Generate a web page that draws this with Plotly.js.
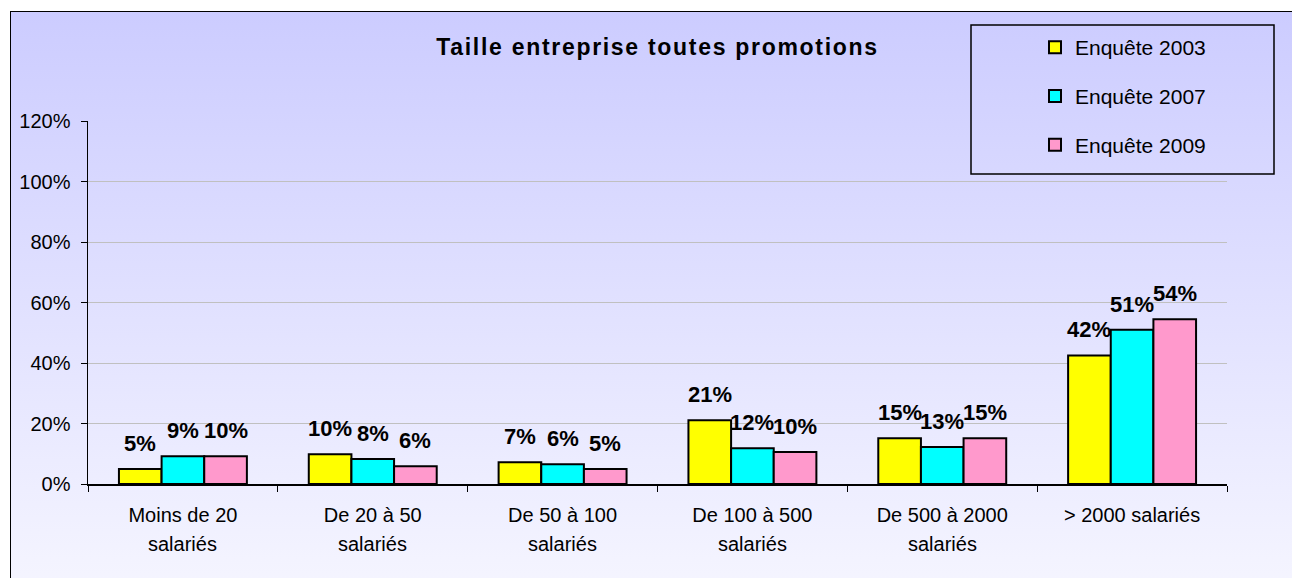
<!DOCTYPE html>
<html>
<head>
<meta charset="utf-8">
<script src="https://cdn.plot.ly/plotly-3.0.1.min.js"></script>
<style>
  html, body { margin: 0; padding: 0; overflow: hidden; background: #ffffff; }
  #wrap { position: relative; width: 1292px; height: 578px; overflow: hidden; background: #ffffff; }
  #bg { position: absolute; left: 10px; top: 11px; width: 1300px; height: 600px;
        border-left: 1.5px solid #000; border-top: 1.5px solid #000;
        background: linear-gradient(to bottom, #CCCCFF 0%, #F5F5FF 96%); }
  #chart { position: absolute; left: 0; top: 0; width: 1292px; height: 578px; }
  #chart .gtitle { letter-spacing: 1.7px; }
</style>
</head>
<body>
<div id="wrap">
  <div id="bg"></div>
  <div id="chart"></div>
</div>
<script>
// ---- data ----
const catLine1 = ["Moins de 20", "De 20 à 50", "De 50 à 100", "De 100 à 500", "De 500 à 2000", "> 2000 salariés"];
const catLine2 = ["salariés", "salariés", "salariés", "salariés", "salariés", ""];
const seriesNames = ["Enquête 2003", "Enquête 2007", "Enquête 2009"];
const v2003 = [0.050, 0.098, 0.072, 0.211, 0.151, 0.425];
const v2007 = [0.092, 0.083, 0.065, 0.118, 0.122, 0.510];
const v2009 = [0.092, 0.059, 0.050, 0.106, 0.151, 0.545];
const lab2003 = ["5%", "10%", "7%", "21%", "15%", "42%"];
const lab2007 = ["9%", "8%", "6%", "12%", "13%", "51%"];
const lab2009 = ["10%", "6%", "5%", "10%", "15%", "54%"];
const yTickVals = [0, 0.2, 0.4, 0.6, 0.8, 1.0, 1.2];
const yTickText = ["0%", "20%", "40%", "60%", "80%", "100%", "120%"];
const chartTitle = "Taille entreprise toutes promotions";

// ---- styles ----
const FONT = "Liberation Sans, Arial, sans-serif";
const colors = ["#FFFF00", "#00FFFF", "#FF99CC"];
const W = 1292, H = 578;
const margin = { l: 88, r: 65, t: 121, b: 94, pad: 0 };
const bargap = 0.326;

const values = [v2003, v2007, v2009];
const labels = [lab2003, lab2007, lab2009];

const traces = values.map((vals, i) => ({
  type: "bar",
  name: seriesNames[i],
  legendgroup: "g" + i,
  x: catLine1,
  y: vals,
  marker: { color: colors[i], line: { color: "#000000", width: 2 } },
  hoverinfo: "none"
}));

const plotW = W - margin.l - margin.r;
const barPx = plotW / catLine1.length * (1 - bargap) / values.length;

const annotations = [];
values.forEach((vals, i) => {
  vals.forEach((v, j) => {
    annotations.push({
      x: catLine1[j], y: v, xref: "x", yref: "y",
      text: "<b>" + labels[i][j] + "</b>",
      showarrow: false, xanchor: "center", yanchor: "bottom",
      xshift: (i - 1) * barPx, yshift: 11,
      font: { family: FONT, size: 22, color: "#000000" }
    });
  });
});
catLine2.forEach((t, j) => {
  if (!t) return;
  annotations.push({
    x: catLine1[j], y: 0, xref: "x", yref: "paper",
    text: t, showarrow: false, xanchor: "center", yanchor: "middle",
    yshift: -60,
    font: { family: FONT, size: 20, color: "#000000" }
  });
});

const px2x = p => (p - margin.l) / plotW;
const plotH = H - margin.t - margin.b;
const py2y = p => (H - margin.b - p) / plotH;

const layout = {
  width: W, height: H, autosize: false,
  margin: margin,
  paper_bgcolor: "rgba(0,0,0,0)",
  plot_bgcolor: "rgba(0,0,0,0)",
  font: { family: FONT, size: 20, color: "#000000" },
  title: {
    text: chartTitle,
    font: { family: FONT, size: 23, weight: "bold", color: "#000000" },
    x: 0.5, xref: "paper", xanchor: "center",
    y: 1 - 47 / H, yref: "container", yanchor: "middle"
  },
  barmode: "group",
  bargap: bargap,
  bargroupgap: 0,
  showlegend: true,
  legend: {
    x: px2x(1035), y: py2y(27), xanchor: "left", yanchor: "top",
    bgcolor: "rgba(0,0,0,0)", borderwidth: 0,
    font: { family: FONT, size: 21, color: "#000000" },
    tracegroupgap: 18.5, traceorder: "grouped"
  },
  xaxis: {
    type: "category",
    showline: true, linecolor: "#000000", linewidth: 1.5,
    ticks: "outside", ticklen: 6, tickwidth: 1, tickcolor: "#000000",
    tickson: "boundaries",
    showgrid: false, zeroline: false,
    ticklabelstandoff: 12,
    tickfont: { family: FONT, size: 20, color: "#000000" }
  },
  yaxis: {
    range: [0, 1.2],
    tickvals: yTickVals, ticktext: yTickText,
    showline: true, linecolor: "#000000", linewidth: 1.5,
    ticks: "outside", ticklen: 6, tickwidth: 1, tickcolor: "#000000",
    showgrid: true, gridcolor: "#C0C0C0", gridwidth: 1,
    zeroline: false,
    ticklabelstandoff: 6,
    tickfont: { family: FONT, size: 20, color: "#000000" }
  },
  shapes: [{
    type: "rect", xref: "paper", yref: "paper",
    x0: px2x(971), x1: px2x(1274), y0: py2y(174), y1: py2y(25),
    line: { color: "#000000", width: 1.5 }, fillcolor: "rgba(0,0,0,0)"
  }],
  annotations: annotations
};

Plotly.newPlot("chart", traces, layout, { displayModeBar: false, staticPlot: true });
</script>
</body>
</html>
